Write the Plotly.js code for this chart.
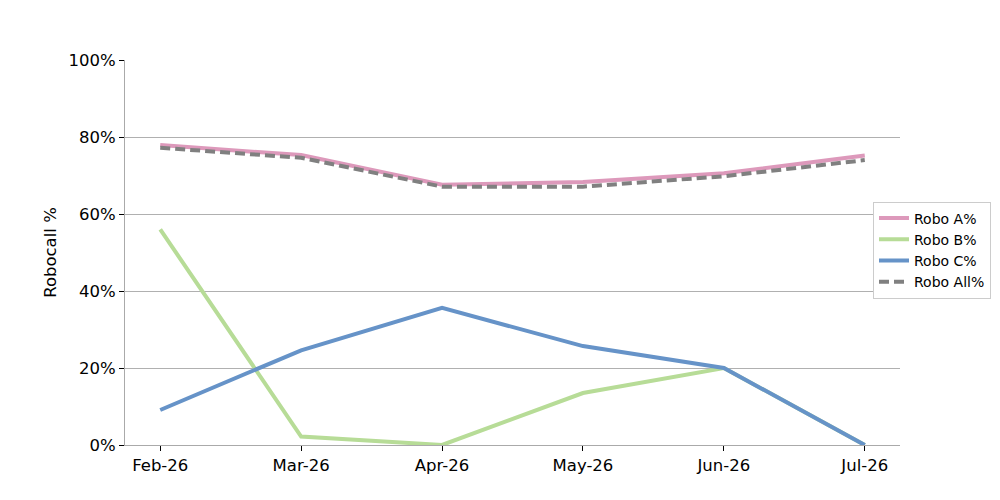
<!DOCTYPE html>
<html>
<head>
<meta charset="utf-8">
<script src="https://cdn.plot.ly/plotly-3.0.1.min.js"></script>
<style>
  html, body { margin: 0; padding: 0; background: #fff; }
  #chart { width: 1000px; height: 500px; }
</style>
</head>
<body>
<div id="chart"></div>
<script>
// Months on the x axis
const months = ['Feb-26', 'Mar-26', 'Apr-26', 'May-26', 'Jun-26', 'Jul-26'];

// Series values (fractions)
const roboA = [0.779, 0.753, 0.676, 0.683, 0.706, 0.752];
const roboB = [0.560, 0.022, 0.000, 0.135, 0.200, 0.000];
const roboC = [0.091, 0.246, 0.356, 0.257, 0.200, 0.000];
const roboAll = [0.772, 0.746, 0.671, 0.671, 0.698, 0.740];

const font = 'DejaVu Sans, sans-serif';

function line(name, y, color, dash) {
    return {
        x: months,
        y: y,
        name: name,
        type: 'scatter',
        mode: 'lines',
        line: { color: color, width: 4, dash: dash || 'solid' },
        hoverinfo: 'x+y+name'
    };
}

const data = [
    line('Robo A%', roboA, '#dd99bb'),
    line('Robo B%', roboB, '#b7dc97'),
    line('Robo C%', roboC, '#6693c8'),
    line('Robo All%', roboAll, '#808080', '10px,5px')
];

const layout = {
    width: 1000,
    height: 500,
    margin: { l: 125, r: 100, t: 60, b: 55, autoexpand: false },
    paper_bgcolor: '#ffffff',
    plot_bgcolor: '#ffffff',
    font: { family: font, size: 16.5, color: '#000000' },
    showlegend: true,
    legend: {
        xref: 'container', yref: 'container',
        x: 0.873, xanchor: 'left',
        y: 0.5, yanchor: 'middle',
        bgcolor: '#ffffff',
        bordercolor: '#cccccc',
        borderwidth: 1,
        itemwidth: 30,
        font: { family: font, size: 14, color: '#000000' },
        tracegroupgap: 0
    },
    xaxis: {
        type: 'category',
        range: [-0.25, 5.25],
        showgrid: false,
        zeroline: false,
        showline: true,
        linecolor: '#aaaaaa',
        linewidth: 1,
        ticks: 'outside',
        ticklen: 5,
        tickcolor: '#000000',
        tickfont: { family: font, size: 16.5 },
        fixedrange: true
    },
    yaxis: {
        range: [0, 1],
        dtick: 0.2,
        tickformat: '.0%',
        showgrid: true,
        gridcolor: '#b0b0b0',
        gridwidth: 1,
        zeroline: false,
        showline: true,
        linecolor: '#aaaaaa',
        linewidth: 1,
        ticks: 'outside',
        ticklen: 5,
        tickcolor: '#000000',
        tickfont: { family: font, size: 16.5 },
        title: { text: 'Robocall %', font: { family: font, size: 16.5 }, standoff: 7 },
        fixedrange: true
    }
};

Plotly.newPlot('chart', data, layout, { displayModeBar: false, staticPlot: true });
</script>
</body>
</html>
